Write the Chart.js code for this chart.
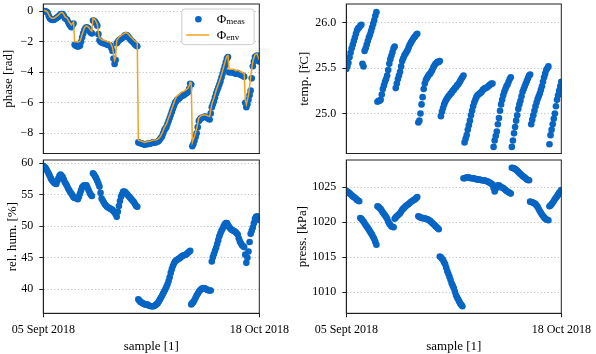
<!DOCTYPE html>
<html>
<head>
<meta charset="utf-8">
<script src="https://cdn.jsdelivr.net/npm/chart.js@4.4.0/dist/chart.umd.min.js"></script>
<style>
    html, body { margin: 0; padding: 0; background: #fff; }
    #wrap { position: relative; width: 596px; height: 354px; overflow: hidden; }
    #wrap canvas { position: absolute; left: 0; top: 0; }
</style>
</head>
<body>
<div id="wrap">
    <canvas id="phaseChart" width="596" height="354"></canvas>
    <canvas id="tempChart" width="596" height="354"></canvas>
    <canvas id="humChart" width="596" height="354"></canvas>
    <canvas id="pressChart" width="596" height="354"></canvas>
</div>
<script>
// Sensor readings, one value per sample (05 Sept 2018 -> 18 Oct 2018)
const phaseMeas = [
    0.0, 0.02, 0.0, -0.03, -0.1, -0.3, -0.45, -0.52, -0.55, -0.57,
    -0.55, -0.5, -0.45, -0.4, -0.35, -0.28, -0.2, -0.18, -0.2, -0.3,
    -0.45, -0.5, -0.55, -0.7, -0.85, -0.95, -1.05, -0.9, -0.8, -2.2,
    -2.25, -2.3, -2.3, -2.3, -2.25, -2.0, -1.7, -1.45, -1.25, -1.12,
    -1.05, -1.08, -1.15, -1.3, -1.4, -1.45, -0.6, -0.62, -0.7, -0.8,
    -0.95, -1.5, -1.9, -2.0, -2.05, -2.08, -2.1, -2.12, -2.15, -2.18,
    -2.2, -2.22, -2.25, -2.4, -2.6, -3.1, -3.45, -3.2, -2.1, -2.0,
    -1.9, -1.85, -1.8, -1.75, -1.7, -1.62, -1.55, -1.55, -1.6, -1.7,
    -1.8, -1.88, -1.95, -2.02, -2.1, -2.18, -2.25, -2.3, -8.6, -8.62,
    -8.65, -8.68, -8.7, -8.72, -8.75, -8.72, -8.7, -8.7, -8.7, -8.68,
    -8.65, -8.62, -8.6, -8.6, -8.6, -8.58, -8.55, -8.5, -8.4, -8.3,
    -8.2, -8.0, -7.8, -7.7, -7.6, -7.4, -7.2, -7.0, -6.8, -6.6,
    -6.4, -6.2, -6.0, -5.9, -5.8, -5.75, -5.7, -5.62, -5.55, -5.52,
    -5.5, -5.45, -5.4, -5.35, -5.3, -5.1, -4.75, -4.8, -8.85, -8.7,
    -8.5, -8.25, -8.0, -7.6, -7.2, -7.1, -7.0, -6.98, -6.95, -6.92,
    -6.9, -6.95, -7.0, -7.05, -7.1, -6.7, -6.3, -6.1, -5.9, -5.65,
    -5.4, -5.2, -5.0, -4.8, -4.6, -4.35, -4.1, -3.85, -3.6, -3.35,
    -3.1, -3.0, -4.0, -4.0, -4.0, -4.0, -4.0, -4.05, -4.1, -4.08,
    -4.05, -4.1, -4.15, -4.18, -4.2, -4.25, -4.3, -6.0, -6.3, -6.1,
    -5.8, -5.5, -5.2, -4.4, -3.6, -3.3, -3.0, -2.95, -2.9, -3.1,
    -3.3
];
const phaseEnv = [
    0.05, 0.05, 0.05, 0.0, -0.05, -0.2, -0.35, -0.42, -0.45, -0.46,
    -0.45, -0.4, -0.35, -0.3, -0.25, -0.18, -0.1, -0.08, -0.1, -0.2,
    -0.35, -0.4, -0.45, -0.58, -0.7, -0.8, -0.9, -0.8, -0.7, -2.0,
    -2.0, -2.0, -2.0, -2.0, -1.95, -1.75, -1.5, -1.3, -1.1, -0.98,
    -0.95, -1.0, -1.05, -1.15, -1.25, -1.3, -0.45, -0.5, -0.55, -0.7,
    -0.85, -1.4, -1.75, -1.8, -1.85, -1.88, -1.9, -1.92, -1.95, -1.98,
    -2.0, -2.02, -2.05, -2.2, -2.35, -2.8, -3.2, -3.0, -1.9, -1.8,
    -1.7, -1.65, -1.6, -1.55, -1.5, -1.45, -1.4, -1.42, -1.45, -1.52,
    -1.6, -1.68, -1.75, -1.82, -1.9, -1.95, -2.0, -2.05, -8.45, -8.48,
    -8.5, -8.52, -8.55, -8.58, -8.6, -8.58, -8.55, -8.55, -8.55, -8.52,
    -8.5, -8.48, -8.45, -8.45, -8.45, -8.42, -8.4, -8.32, -8.25, -8.12,
    -8.0, -7.82, -7.65, -7.52, -7.4, -7.2, -7.0, -6.8, -6.6, -6.4,
    -6.2, -6.0, -5.8, -5.65, -5.55, -5.5, -5.45, -5.38, -5.3, -5.28,
    -5.25, -5.2, -5.15, -5.1, -5.05, -4.9, -4.65, -4.7, -8.6, -8.4,
    -8.2, -7.95, -7.7, -7.35, -7.0, -6.92, -6.85, -6.82, -6.8, -6.8,
    -6.8, -6.82, -6.85, -6.88, -6.9, -6.5, -6.1, -5.9, -5.7, -5.45,
    -5.2, -5.0, -4.8, -4.6, -4.4, -4.15, -3.9, -3.65, -3.4, -3.15,
    -2.95, -2.9, -3.8, -3.8, -3.8, -3.8, -3.8, -3.85, -3.9, -3.88,
    -3.85, -3.9, -3.95, -3.98, -4.0, -4.05, -4.1, -5.8, -6.1, -5.8,
    -5.5, -4.9, -4.3, -3.8, -3.3, -3.05, -2.85, -2.82, -2.8, -3.0,
    -3.2
];
const temperature = [
    25.49, 25.52, 25.56, 25.62, 25.67, 25.72, 25.76, 25.80, 25.84, 25.88,
    25.92, 25.94, 25.95, 25.97, 25.98, 25.55, 25.52, 25.69, 25.72, 25.76,
    25.80, 25.84, 25.87, 25.91, 25.95, 25.99, 26.03, 26.08, 26.12, 25.13,
    25.14, 25.14, 25.15, 25.21, 25.27, 25.31, 25.35, 25.38, 25.42, 25.48,
    25.55, 25.60, 25.64, 25.68, 25.72, 25.74, 25.28, 25.33, 25.38, 25.42,
    25.46, 25.52, 25.58, 25.61, 25.64, 25.66, 25.68, 25.70, 25.73, 25.76,
    25.78, 25.80, 25.82, 25.84, 25.85, 25.87, 25.88, 24.90, 24.92, 25.00,
    25.10, 25.18, 25.27, 25.33, 25.37, 25.39, 25.41, 25.43, 25.44, 25.46,
    25.48, 25.51, 25.53, 25.55, 25.56, 25.57, 25.57, 25.58, 24.97, 25.02,
    25.06, 25.10, 25.13, 25.15, 25.17, 25.19, 25.20, 25.22, 25.23, 25.25,
    25.26, 25.28, 25.29, 25.31, 25.32, 25.34, 25.36, 25.38, 25.40, 25.42,
    24.68, 24.72, 24.76, 24.82, 24.87, 24.92, 24.98, 25.03, 25.08, 25.12,
    25.15, 25.18, 25.20, 25.21, 25.22, 25.23, 25.24, 25.26, 25.27, 25.28,
    25.28, 25.29, 25.30, 25.31, 25.32, 25.33, 25.33, 24.63, 24.70, 24.75,
    24.80, 24.88, 24.95, 25.03, 25.10, 25.15, 25.20, 25.24, 25.27, 25.30,
    25.32, 25.35, 25.38, 25.40, 24.63, 24.70, 24.78, 24.85, 24.92, 24.98,
    25.05, 25.10, 25.14, 25.19, 25.24, 25.27, 25.30, 25.33, 25.36, 25.39,
    25.42, 25.43, 24.88, 24.93, 24.98, 25.03, 25.08, 25.12, 25.16, 25.19,
    25.22, 25.26, 25.30, 25.35, 25.40, 25.44, 25.48, 25.50, 25.52, 24.66,
    24.76, 24.82, 24.88, 24.94, 25.00, 25.08, 25.15, 25.20, 25.25, 25.30,
    25.35
];
const humidity = [
    59.6, 59.45, 59.3, 59.0, 58.7, 58.35, 58.0, 57.6, 57.3, 57.1,
    56.9, 56.8, 56.7, 57.2, 57.6, 58.0, 58.2, 58.0, 57.8, 57.4,
    57.0, 56.7, 56.4, 56.0, 55.7, 55.4, 55.2, 54.9, 54.6, 54.5,
    54.5, 54.4, 54.3, 54.7, 55.2, 55.7, 56.2, 56.4, 56.5, 56.5,
    56.5, 56.1, 55.7, 55.3, 55.0, 54.8, 58.4, 58.2, 57.9, 57.6,
    57.2, 56.8, 56.3, 55.3, 54.4, 54.1, 53.8, 53.5, 53.3, 53.1,
    53.0, 52.9, 52.8, 52.7, 52.6, 52.4, 52.2, 51.9, 51.5, 52.3,
    53.2, 54.0, 54.7, 55.1, 55.5, 55.5, 55.4, 55.2, 55.0, 54.8,
    54.6, 54.4, 54.2, 54.0, 53.8, 53.5, 53.2, 53.1, 38.4, 38.2,
    38.0, 37.9, 37.8, 37.7, 37.6, 37.6, 37.6, 37.5, 37.4, 37.35,
    37.3, 37.3, 37.3, 37.4, 37.5, 37.65, 37.8, 38.1, 38.4, 38.7,
    39.0, 39.35, 39.7, 40.0, 40.4, 40.8, 41.3, 41.9, 42.6, 43.2,
    43.7, 44.1, 44.4, 44.55, 44.7, 44.8, 44.9, 45.05, 45.2, 45.3,
    45.4, 45.45, 45.5, 45.65, 45.8, 45.95, 46.1, 37.6, 37.8, 38.0,
    38.3, 38.65, 39.0, 39.3, 39.6, 39.8, 40.0, 40.1, 40.2, 40.15,
    40.1, 40.0, 39.9, 39.85, 39.8, 39.8, 44.4, 45.1, 45.6, 46.1,
    46.6, 47.2, 47.8, 48.4, 48.9, 49.3, 49.6, 50.0, 50.3, 50.5,
    50.5, 50.2, 49.9, 49.7, 49.5, 49.4, 49.3, 49.2, 49.1, 48.9,
    48.7, 48.1, 47.6, 47.3, 47.0, 46.85, 46.7, 45.5, 44.2, 45.0,
    46.0, 47.5, 48.8, 49.3, 49.8, 50.5, 51.2, 51.5, 51.6, 51.3,
    51.0
];
const pressure = [
    1024.5, 1024.4, 1024.3, 1024.15, 1024.0, 1023.85, 1023.7, 1023.6, 1023.5, 1023.35,
    1023.2, 1023.1, 1023.0, 1020.6, 1020.5, 1020.3, 1020.1, 1019.85, 1019.6, 1019.4,
    1019.2, 1018.95, 1018.7, 1018.45, 1018.2, 1017.9, 1017.6, 1017.2, 1016.8, 1022.3,
    1022.2, 1022.05, 1021.9, 1021.65, 1021.4, 1021.2, 1021.0, 1020.75, 1020.5, 1020.1,
    1019.8, 1019.6, 1019.4, 1019.35, 1019.3, 1020.5, 1020.7, 1020.85, 1021.0, 1021.15,
    1021.3, 1021.55, 1021.8, 1021.95, 1022.1, 1022.25, 1022.4, 1022.5, 1022.6, 1022.75,
    1022.9, 1023.0, 1023.1, 1023.2, 1023.3, 1023.45, 1023.6, 1020.85, 1020.8, 1020.7,
    1020.6, 1020.6, 1020.6, 1020.55, 1020.5, 1020.45, 1020.4, 1020.3, 1020.2, 1020.05,
    1019.9, 1019.75, 1019.6, 1019.45, 1019.3, 1019.15, 1019.0, 1015.1, 1015.0, 1014.8,
    1014.6, 1014.3, 1014.0, 1013.5, 1013.0, 1012.6, 1012.2, 1011.75, 1011.3, 1010.95,
    1010.6, 1010.1, 1009.6, 1009.3, 1009.0, 1008.7, 1008.4, 1008.2, 1008.0, 1026.3,
    1026.3, 1026.35, 1026.4, 1026.4, 1026.4, 1026.35, 1026.3, 1026.3, 1026.3, 1026.25,
    1026.2, 1026.15, 1026.1, 1026.1, 1026.1, 1026.05, 1026.0, 1026.0, 1026.0, 1025.95,
    1025.9, 1025.85, 1025.8, 1025.7, 1025.6, 1025.5, 1025.4, 1024.9, 1024.4, 1024.8,
    1025.2, 1025.25, 1025.3, 1025.15, 1025.0, 1024.95, 1024.9, 1024.75, 1024.6, 1024.5,
    1024.4, 1024.3, 1024.2, 1024.1, 1027.8, 1027.75, 1027.7, 1027.6, 1027.5, 1027.35,
    1027.2, 1027.05, 1026.9, 1026.75, 1026.6, 1026.5, 1026.4, 1026.25, 1026.1, 1026.05,
    1026.0, 1022.95, 1022.9, 1022.85, 1022.8, 1022.7, 1022.6, 1022.4, 1022.2, 1021.9,
    1021.6, 1021.35, 1021.1, 1020.9, 1020.7, 1020.55, 1020.4, 1020.35, 1020.3, 1022.3,
    1022.4, 1022.6, 1022.8, 1023.05, 1023.3, 1023.5, 1023.7, 1023.95, 1024.2, 1024.4,
    1024.6
];

// Axis ticks and labels
const dateLabels = ['05 Sept 2018', '18 Oct 2018'];
const phaseTicks = [0, -2, -4, -6, -8];
const tempTicks = [26.0, 25.5, 25.0];
const humTicks = [60, 55, 50, 45, 40];
const pressTicks = [1025, 1020, 1015, 1010];
const legendLabels = [['\u03A6', 'meas'], ['\u03A6', 'env']];

const BLUE = '#0765c4';
const ORANGE = '#f5a11c';
const SERIF = "'Liberation Serif', 'DejaVu Serif', serif";

function toPoints(values) {
    return values.map((v, i) => ({ x: i, y: v }));
}

function dotDataset(values) {
    return {
        data: toPoints(values),
        backgroundColor: BLUE,
        borderWidth: 0,
        pointRadius: 3.3,
        order: 1,
        clip: 0
    };
}

// Draws the full box round the plot area (matplotlib-like spines)
const framePlugin = {
    id: 'frame',
    afterDatasetsDraw(chart) {
        const a = chart.chartArea;
        const ctx = chart.ctx;
        ctx.save();
        ctx.strokeStyle = '#222';
        ctx.lineWidth = 1;
        ctx.strokeRect(a.left, a.top, a.right - a.left, a.bottom - a.top);
        ctx.restore();
    }
};

// Legend with subscripts, upper right of the phase panel
const phaseLegend = {
    id: 'phaseLegend',
    afterDraw(chart) {
        const a = chart.chartArea;
        const ctx = chart.ctx;
        const x0 = a.right - 77.5;
        const y0 = a.top + 5;
        ctx.save();
        ctx.beginPath();
        ctx.roundRect(x0, y0, 72.3, 35.7, 3);
        ctx.fillStyle = 'rgba(255,255,255,0.8)';
        ctx.fill();
        ctx.strokeStyle = '#cccccc';
        ctx.lineWidth = 1;
        ctx.stroke();

        // marker for measured phase
        ctx.beginPath();
        ctx.arc(x0 + 16.6, y0 + 10.3, 3.3, 0, Math.PI * 2);
        ctx.fillStyle = BLUE;
        ctx.fill();
        // line for envelope
        ctx.beginPath();
        ctx.moveTo(x0 + 4.5, y0 + 26);
        ctx.lineTo(x0 + 27.5, y0 + 26);
        ctx.strokeStyle = ORANGE;
        ctx.lineWidth = 1.5;
        ctx.stroke();

        ctx.fillStyle = '#000';
        ctx.textBaseline = 'middle';
        const rows = [y0 + 10.3, y0 + 26.5];
        legendLabels.forEach((lab, k) => {
            ctx.font = '13px ' + SERIF;
            ctx.fillText(lab[0], x0 + 35, rows[k]);
            const w = ctx.measureText(lab[0]).width;
            ctx.font = '9px ' + SERIF;
            ctx.fillText(lab[1], x0 + 35 + w, rows[k] + 2.5);
        });
        ctx.restore();
    }
};

function buildPanel(canvasId, cfg) {
    const last = cfg.datasets[0].data.length - 1;
    const tickFont = { family: SERIF, size: 12 };
    const titleFont = { family: SERIF, size: 13 };
    return new Chart(document.getElementById(canvasId), {
        type: 'scatter',
        data: { datasets: cfg.datasets },
        options: {
            responsive: false,
            animation: false,
            events: [],
            layout: { padding: cfg.padding },
            plugins: {
                legend: { display: false },
                tooltip: { enabled: false }
            },
            scales: {
                x: {
                    type: 'linear',
                    min: 0,
                    max: last,
                    afterBuildTicks: s => { s.ticks = [{ value: 0 }, { value: last }]; },
                    afterFit: s => { s.height = cfg.axisHeight; s.paddingLeft = 0; s.paddingRight = 0; },
                    ticks: {
                        display: cfg.showDates,
                        callback: (v, i) => dateLabels[i],
                        maxRotation: 0,
                        autoSkip: false,
                        padding: 5,
                        color: '#000',
                        font: tickFont
                    },
                    grid: { drawOnChartArea: false, drawTicks: cfg.showDates, tickLength: 4, tickColor: '#222' },
                    border: { color: '#222', width: 1 },
                    title: {
                        display: cfg.showDates,
                        text: 'sample [1]',
                        color: '#000',
                        font: titleFont,
                        padding: { top: 0, bottom: 0 }
                    }
                },
                y: {
                    type: 'linear',
                    min: cfg.yMin,
                    max: cfg.yMax,
                    afterBuildTicks: s => { s.ticks = cfg.yTicks.map(v => ({ value: v })); },
                    afterFit: s => { s.width = cfg.axisWidth; s.paddingTop = 0; s.paddingBottom = 0; },
                    ticks: { callback: cfg.format, color: '#000', font: tickFont, padding: 6 },
                    grid: { color: '#b0b0b0', lineWidth: 0.8, tickLength: 4, tickColor: '#222', tickWidth: 1 },
                    border: { color: '#222', width: 1, dash: [1.2, 2.2] },
                    title: {
                        display: true,
                        text: cfg.yTitle,
                        color: '#000',
                        font: titleFont,
                        padding: { top: cfg.titlePad, bottom: 0 }
                    }
                }
            }
        },
        plugins: cfg.plugins
    });
}

document.addEventListener('DOMContentLoaded', function() {
    const minus = v => (v < 0 ? '\u2212' + Math.abs(v) : String(v));

    buildPanel('phaseChart', {
        datasets: [
            {
                type: 'line',
                data: toPoints(phaseEnv),
                borderColor: ORANGE,
                borderWidth: 1.5,
                pointRadius: 0,
                tension: 0,
                order: 0,
                clip: 0
            },
            dotDataset(phaseMeas)
        ],
        padding: { left: 0, right: 336.7, top: 0, bottom: 0 },
        axisWidth: 43.3, axisHeight: 200.5, titlePad: 0.5,
        yMin: -9.33, yMax: 0.48, yTicks: phaseTicks, format: minus,
        yTitle: 'phase [rad]', showDates: false,
        plugins: [framePlugin, phaseLegend]
    });

    buildPanel('tempChart', {
        datasets: [dotDataset(temperature)],
        padding: { left: 294, right: 34.7, top: 0, bottom: 0 },
        axisWidth: 52.3, axisHeight: 200.5, titlePad: 2.9,
        yMin: 24.557, yMax: 26.21, yTicks: tempTicks, format: v => v.toFixed(1),
        yTitle: 'temp. [\u0159C]', showDates: false,
        plugins: [framePlugin]
    });

    buildPanel('humChart', {
        datasets: [dotDataset(humidity)],
        padding: { left: 0, right: 336.7, top: 160, bottom: 0 },
        axisWidth: 43.3, axisHeight: 40.7, titlePad: 4.7,
        yMin: 36.19, yMax: 60.52, yTicks: humTicks, format: v => String(v),
        yTitle: 'rel. hum. [%]', showDates: true,
        plugins: [framePlugin]
    });

    buildPanel('pressChart', {
        datasets: [dotDataset(pressure)],
        padding: { left: 294, right: 34.7, top: 160, bottom: 0 },
        axisWidth: 52.3, axisHeight: 40.7, titlePad: 0.9,
        yMin: 1007.0, yMax: 1028.9, yTicks: pressTicks, format: v => String(v),
        yTitle: 'press. [kPa]', showDates: true,
        plugins: [framePlugin]
    });
});
</script>
</body>
</html>
